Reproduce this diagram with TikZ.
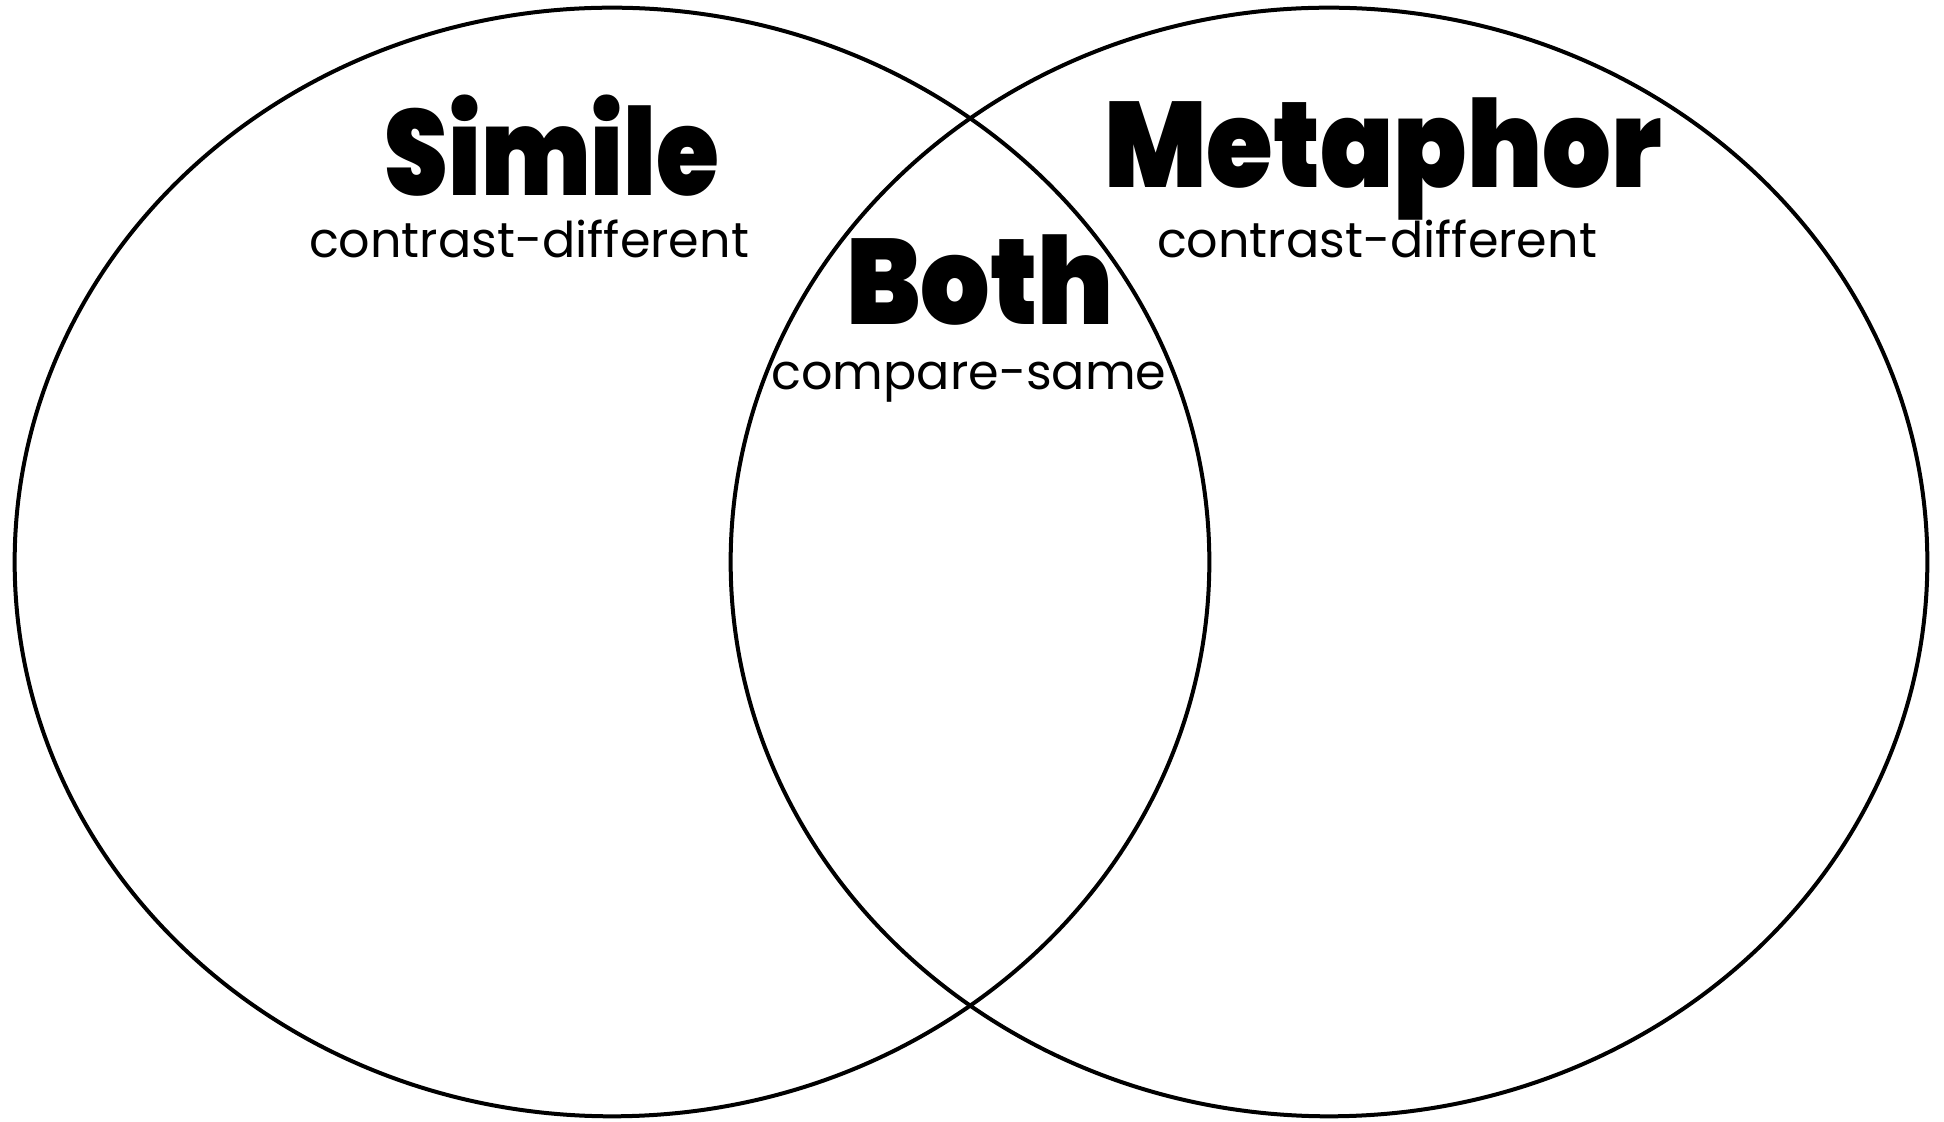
\documentclass[tikz,border=0pt]{standalone}
\usepackage{fontspec}
\usepackage{graphicx}
\setmainfont{Poppins}
\newfontfamily\headfont{Poppins Black}
\usetikzlibrary{positioning}
% squeeze a heading to the width it has in the chart
\newcommand{\squeezed}[2]{\scalebox{#1}[1]{#2}}

\begin{document}
\begin{tikzpicture}[x=0.01cm, y=-0.01cm,
        every node/.style={inner sep=0pt, outer sep=0pt},
        ring/.style={draw=black, line width=0.04cm},
        head/.style={anchor=base, font=\headfont\fontsize{34.5}{40}\selectfont},
        sub/.style={anchor=base, font=\fontsize{14}{16}\selectfont}]

  \useasboundingbox[fill=white] (0,0) rectangle (1944,1122);

  % the two sets
  \draw[ring] (612,562) ellipse [x radius=5.97cm, y radius=5.54cm];
  \draw[ring] (1329,562) ellipse [x radius=5.98cm, y radius=5.54cm];

  % labels
  \node[head] (simile) at (552,196) {\squeezed{0.84}{Simile}};
  \node[sub] (simileSub) at (529,258) {contrast-different};

  \node[head] (both) at (980,325) {\squeezed{0.9}{Both}};
  \node[sub] (bothSub) at (969,390) {compare-same};

  \node[head] (metaphor) at (1383,188) {\squeezed{0.89}{Metaphor}};
  \node[sub] (metaphorSub) at (1377,258) {contrast-different};
\end{tikzpicture}
\end{document}
